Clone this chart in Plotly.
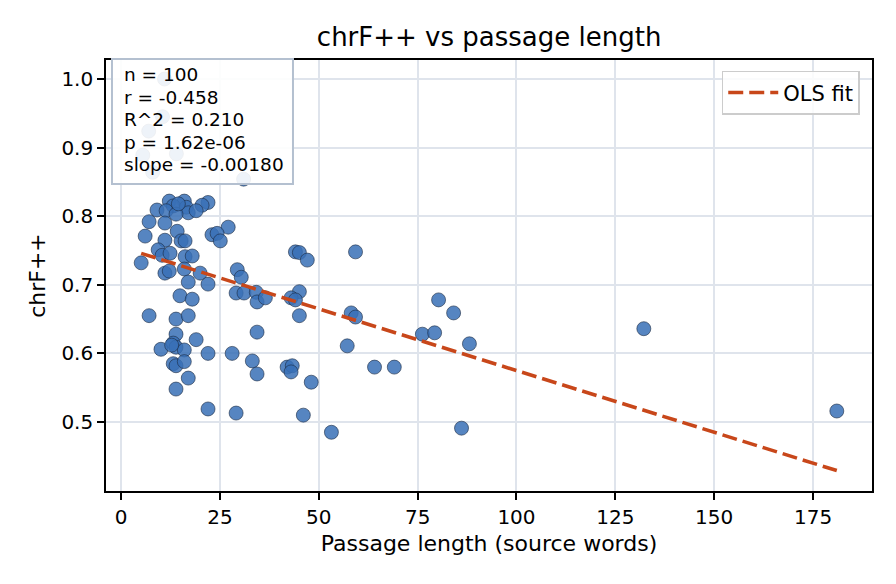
import plotly.graph_objects as go

# Passage length (source words) and chrF++ per passage
passage_len = [
    11.0, 10.5, 7.0, 5.5, 8.0, 14.0, 31.0,
    12.2, 16.0, 22.0, 20.5, 13.2, 9.1, 11.4, 16.5, 17.0, 13.9, 19.0, 14.5,
    7.1, 11.1, 14.2, 27.1, 6.1, 11.1, 15.2, 16.2, 23.0, 24.3, 25.1,
    9.4, 10.4, 12.4, 16.2, 18.0, 5.1, 11.1, 12.2, 16.0, 20.0, 17.0, 22.0, 29.4, 30.4,
    29.1, 31.1, 34.2, 34.4, 36.5, 14.9, 18.0,
    7.1, 13.9, 17.0, 13.9, 13.2, 13.9, 10.1, 16.0, 19.0, 22.0, 28.1, 13.2, 13.9,
    16.0, 17.0, 13.9, 22.0, 29.1, 33.2, 34.4, 34.4, 12.8,
    44.1, 45.1, 47.1, 59.3, 45.1, 43.0, 44.1, 45.1, 58.2, 59.3, 57.2, 80.3, 84.1,
    76.2, 79.3, 88.1, 42.0, 43.3, 43.0, 48.1, 64.1, 69.1, 46.1, 53.2, 86.1,
    132.2, 181.0,
]
chrf = [
    1.000, 0.945, 0.924, 0.889, 0.864, 0.891, 0.854,
    0.822, 0.822, 0.820, 0.816, 0.815, 0.809, 0.808, 0.813, 0.805, 0.803, 0.808, 0.818,
    0.792, 0.790, 0.778, 0.784, 0.771, 0.765, 0.764, 0.764, 0.773, 0.775, 0.764,
    0.751, 0.743, 0.746, 0.741, 0.742, 0.732, 0.717, 0.720, 0.723, 0.717, 0.704, 0.701, 0.722, 0.711,
    0.688, 0.688, 0.689, 0.675, 0.681, 0.684, 0.679,
    0.655, 0.650, 0.655, 0.628, 0.615, 0.609, 0.606, 0.605, 0.620, 0.600, 0.600, 0.585, 0.582,
    0.588, 0.564, 0.548, 0.519, 0.513, 0.589, 0.570, 0.631, 0.612,
    0.748, 0.747, 0.736, 0.748, 0.690, 0.681, 0.678, 0.655, 0.659, 0.653, 0.611, 0.678, 0.659,
    0.628, 0.630, 0.614, 0.580, 0.582, 0.573, 0.558, 0.580, 0.580, 0.510, 0.485, 0.491,
    0.636, 0.516,
]

# OLS fit and stats as shown in the chart
fit_slope = -0.00180
fit_intercept = 0.755
stats_lines = ["n = 100", "r = -0.458", "R^2 = 0.210", "p = 1.62e-06", "slope = -0.00180"]

x_ticks = [0, 25, 50, 75, 100, 125, 150, 175]
y_ticks = [0.5, 0.6, 0.7, 0.8, 0.9, 1.0]
y_tick_text = ["0.5", "0.6", "0.7", "0.8", "0.9", "1.0"]

FONT = "DejaVu Sans"

x_fit = [min(passage_len), max(passage_len)]
y_fit = [fit_intercept + fit_slope * v for v in x_fit]

fig = go.Figure()
fig.add_trace(go.Scatter(
    x=passage_len, y=chrf, mode="markers", showlegend=False,
    marker=dict(size=14, color="rgba(56,112,182,0.85)",
                line=dict(color="#1b2a41", width=0.6)),
))
fig.add_trace(go.Scatter(
    x=x_fit, y=y_fit, mode="lines", name="OLS fit",
    line=dict(color="#c8471a", width=3.6, dash="15px,6px"),
))

# stats box (semi-transparent, above the points)
fig.add_shape(
    type="rect", xref="paper", yref="paper", layer="above",
    x0=0.0078, x1=0.2441, y0=0.7123, y1=1.0023,
    fillcolor="rgba(255,255,255,0.9)", line=dict(color="#b4c0d0", width=2),
)
line_y = [0.9652, 0.9130, 0.8608, 0.8086, 0.7564]
for txt, yy in zip(stats_lines, line_y):
    fig.add_annotation(
        xref="paper", yref="paper", x=0.0209, y=yy, xanchor="left", yanchor="middle",
        text=txt, showarrow=False, font=dict(family=FONT, size=18.5, color="black"),
    )

axis_common = dict(
    showline=True, linecolor="black", linewidth=1.6, mirror=True,
    ticks="outside", ticklen=7, tickwidth=1.6, tickcolor="black",
    showgrid=True, gridcolor="#dfe4ec", gridwidth=1.6, zeroline=False,
    tickfont=dict(family=FONT, size=20, color="black"),
)

fig.update_layout(
    width=896, height=584,
    margin=dict(l=106, r=24, t=60, b=93),
    paper_bgcolor="white", plot_bgcolor="white",
    font=dict(family=FONT, color="black"),
    title=dict(text="chrF++ vs passage length", x=0.5459, xanchor="center",
               y=0.936, yanchor="middle", font=dict(family=FONT, size=26, color="black")),
    xaxis=dict(range=[-3.8, 189.9], tickvals=x_ticks,
               title=dict(text="Passage length (source words)", font=dict(family=FONT, size=22), standoff=8),
               **axis_common),
    yaxis=dict(range=[0.3994, 1.0277], tickvals=y_ticks, ticktext=y_tick_text,
               title=dict(text="chrF++", font=dict(family=FONT, size=22), standoff=10),
               **axis_common),
    legend=dict(x=0.984, y=0.975, xanchor="right", yanchor="top", itemwidth=50,
                bgcolor="rgba(255,255,255,0.85)", bordercolor="#cccccc", borderwidth=1.5,
                font=dict(family=FONT, size=21, color="black")),
)

fig.write_html("out.html")
